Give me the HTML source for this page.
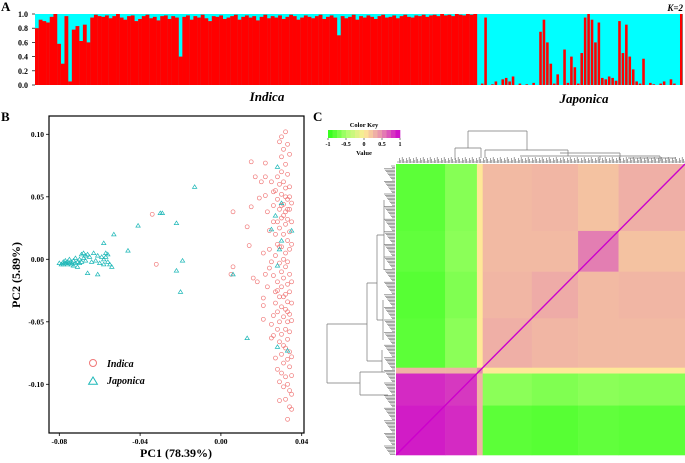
<!DOCTYPE html>
<html><head><meta charset="utf-8"><style>
html,body{margin:0;padding:0;background:#fff;}
svg{display:block;font-family:"Liberation Serif",serif;font-weight:bold;}
</style></head><body>
<svg id="fig" width="685" height="463" viewBox="0 0 685 463" xmlns="http://www.w3.org/2000/svg">
<g id="pA"></g>
<g id="pB"></g>
<g id="pC"></g>
</svg>
<script>
// ---- Panel A data: red (Indica ancestry) fraction per accession ----
const indicaQ = [0.80,0.92,0.90,0.88,0.96,1.00,0.58,0.30,0.97,0.05,0.78,0.83,0.62,0.85,0.60,0.95,0.99,0.97,0.96,0.98,0.94,0.97,1.00,0.95,0.92,0.97,0.98,0.90,0.93,0.97,0.99,0.94,0.96,0.91,0.97,0.98,0.93,0.97,0.95,0.40,0.96,0.98,0.92,0.97,0.95,0.99,0.94,0.90,0.97,0.96,0.98,0.93,0.95,0.97,0.99,0.92,0.96,0.98,0.95,0.97,0.91,0.96,0.99,0.94,0.97,0.95,0.98,0.93,0.96,0.99,0.97,0.92,0.95,0.98,0.96,0.94,0.97,0.99,0.93,0.96,0.98,0.95,0.70,0.97,0.94,0.96,0.99,0.92,0.97,0.95,0.98,0.96,0.93,0.97,0.99,0.95,0.96,0.98,0.94,0.97,0.99,0.96,0.95,0.98,0.97,0.99,0.96,0.98,0.99,0.97,1.00,0.98,0.99,0.97,1.00,0.99,0.98,1.00,0.99,1.00];
const japonicaQ = [0.00,0.02,0.95,0.00,0.01,0.05,0.00,0.08,0.10,0.05,0.12,0.00,0.02,0.00,0.01,0.00,0.03,0.00,0.75,0.92,0.60,0.30,0.02,0.15,0.00,0.50,0.03,0.40,0.25,0.02,0.45,0.95,1.00,0.92,0.60,0.88,0.10,0.08,0.12,0.10,0.06,0.90,0.45,0.85,0.40,0.22,0.05,0.02,0.37,0.00,0.03,0.01,0.00,0.02,0.05,0.00,0.08,0.02,0.00,1.00];
const yTicksA = ["0.0","0.2","0.4","0.6","0.8","1.0"];

// ---- Panel B data ----
const japPC = [[-0.080,-0.003],[-0.079,-0.004],[-0.078,-0.002],[-0.078,-0.004],[-0.077,-0.003],[-0.077,-0.001],[-0.076,-0.004],[-0.076,-0.002],[-0.075,-0.003],[-0.075,0.000],[-0.074,-0.002],[-0.074,-0.004],[-0.073,-0.001],[-0.073,-0.005],[-0.072,-0.003],[-0.072,0.001],[-0.071,-0.002],[-0.071,-0.006],[-0.070,0.000],[-0.070,-0.003],[-0.069,-0.002],[-0.069,0.004],[-0.068,0.005],[-0.068,0.001],[-0.067,0.003],[-0.067,-0.001],[-0.066,0.004],[-0.066,-0.011],[-0.065,0.002],[-0.064,-0.002],[-0.063,0.005],[-0.062,-0.001],[-0.061,0.003],[-0.061,-0.012],[-0.060,-0.003],[-0.059,0.002],[-0.058,0.000],[-0.058,-0.004],[-0.057,0.005],[-0.057,0.002],[-0.056,-0.002],[-0.056,0.004],[-0.055,-0.004],[-0.058,0.013],[-0.054,-0.006],[-0.053,0.020],[-0.046,0.007],[-0.041,0.027],[-0.030,0.037],[-0.029,0.037],[-0.022,0.029],[-0.022,-0.009],[-0.020,-0.026],[-0.019,-0.001],[-0.013,0.058],[0.006,-0.012],[0.013,-0.063],[0.028,0.074],[0.030,0.045],[0.027,0.035],[0.025,0.024],[0.035,0.023],[0.030,0.015],[0.029,0.008],[0.028,-0.005],[0.028,-0.070],[0.033,-0.073]];
const indPC = [[-0.034,0.036],[-0.032,-0.004],[0.005,-0.012],[0.006,-0.006],[0.006,0.038],[0.013,0.026],[0.014,0.011],[0.015,0.042],[0.015,0.078],[0.017,0.066],[0.016,-0.015],[0.018,-0.018],[0.019,0.049],[0.020,0.062],[0.021,0.005],[0.021,-0.031],[0.021,-0.037],[0.021,-0.048],[0.022,0.077],[0.022,0.066],[0.022,0.051],[0.023,0.038],[0.022,-0.012],[0.023,-0.022],[0.024,0.023],[0.024,0.008],[0.024,-0.007],[0.025,0.062],[0.025,-0.002],[0.025,-0.063],[0.025,-0.052],[0.026,0.054],[0.026,0.043],[0.026,0.030],[0.026,-0.013],[0.026,-0.045],[0.026,-0.061],[0.027,0.055],[0.027,0.020],[0.027,0.003],[0.027,-0.026],[0.027,-0.035],[0.027,-0.079],[0.028,0.066],[0.028,0.048],[0.028,0.012],[0.028,-0.018],[0.028,-0.042],[0.028,-0.056],[0.028,-0.088],[0.029,0.094],[0.029,0.060],[0.029,0.040],[0.029,0.025],[0.029,-0.003],[0.029,-0.030],[0.029,-0.050],[0.029,-0.066],[0.029,-0.098],[0.029,-0.113],[0.030,0.098],[0.030,0.082],[0.030,0.070],[0.030,0.052],[0.030,0.033],[0.030,0.010],[0.030,-0.010],[0.030,-0.022],[0.030,-0.038],[0.030,-0.060],[0.030,-0.076],[0.030,-0.091],[0.031,0.088],[0.031,0.062],[0.031,0.044],[0.031,0.020],[0.031,0.000],[0.031,-0.015],[0.031,-0.046],[0.031,-0.069],[0.031,-0.083],[0.031,-0.102],[0.032,0.102],[0.032,0.076],[0.032,0.057],[0.032,0.038],[0.032,0.028],[0.032,0.005],[0.032,-0.006],[0.032,-0.028],[0.032,-0.040],[0.032,-0.056],[0.032,-0.071],[0.032,-0.094],[0.032,-0.112],[0.033,0.092],[0.033,0.068],[0.033,0.048],[0.033,0.032],[0.033,0.015],[0.033,-0.002],[0.033,-0.020],[0.033,-0.034],[0.033,-0.050],[0.033,-0.064],[0.033,-0.080],[0.033,-0.100],[0.033,-0.128],[0.034,0.084],[0.034,0.058],[0.034,0.040],[0.034,0.022],[0.034,0.008],[0.034,-0.012],[0.034,-0.026],[0.034,-0.044],[0.034,-0.058],[0.034,-0.074],[0.034,-0.086],[0.034,-0.105],[0.034,-0.118],[0.035,0.045],[0.035,0.030],[0.035,0.012],[0.035,-0.018],[0.035,-0.035],[0.035,-0.049],[0.035,-0.078],[0.035,-0.093],[0.035,-0.108],[0.035,-0.120],[0.028,0.030],[0.031,0.035],[0.033,0.040],[0.032,0.050],[0.030,0.043],[0.034,0.050],[0.029,0.010],[0.031,-0.030],[0.028,-0.025],[0.033,-0.042]];
const xTicksB = [-0.08,-0.04,0.00,0.04];
const yTicksB = [0.10,0.05,0.00,-0.05,-0.10];

// ---- Panel C data: group sizes and group-by-group correlation ----
const groupNames = ["J1","J2","M","I1a","I1b","I2","I3"];
const groupSizes = [17,11,2,17,16,14,23];
const corrMatrix = [
 [0.90,0.85,0.30,-0.80,-0.82,-0.78,-0.80],
 [0.85,0.80,0.30,-0.62,-0.66,-0.62,-0.64],
 [0.30,0.30,0.50,0.02,0.02,0.02,0.02],
 [-0.80,-0.62,0.02,0.32,0.28,0.26,0.26],
 [-0.82,-0.66,0.02,0.28,0.34,0.26,0.28],
 [-0.78,-0.62,0.02,0.26,0.26,0.55,0.22],
 [-0.80,-0.64,0.02,0.26,0.28,0.22,0.32]];
const keyTicks = ["-1","-0.5","0","0.5","1"];

const NS="http://www.w3.org/2000/svg";
function mk(tag, attrs, parent){const e=document.createElementNS(NS,tag);for(const k in attrs)e.setAttribute(k,attrs[k]);parent.appendChild(e);return e;}
function txt(s, attrs, parent){const e=mk('text',attrs,parent);e.textContent=s;return e;}

// ===== Panel A =====
const A=document.getElementById('pA');
const ax0=35, ax1=683, asplit=477, ay0=85, ay1=14;
const ya=v=>ay0-(ay0-ay1)*v;
let lbl=txt("A",{x:1,y:11,'font-size':13},A);


lbl=txt("K=2",{x:683,y:11,'font-size':9,'text-anchor':'end','font-style':'italic'},A);


const bgJ=mk('rect',{x:asplit,y:ay1,width:ax1-asplit,height:ay0-ay1,fill:'#00ffff'},A);


const bgI=mk('rect',{x:ax0,y:ay1,width:asplit-ax0,height:ay0-ay1,fill:'#00ffff'},A);


const bwI=(asplit-ax0)/indicaQ.length;
indicaQ.forEach((q,i)=>{const r=mk('rect',{x:ax0+i*bwI,y:ya(q),width:bwI+0.15,height:ay0-ya(q),fill:'#ff0000'},A);

});
const bwJ=(ax1-asplit)/japonicaQ.length;
japonicaQ.forEach((q,i)=>{const w=bwJ*0.75;const r=mk('rect',{x:asplit+i*bwJ+(bwJ-w)/2,y:ya(q),width:w,height:ay0-ya(q),fill:'#ff0000'},A);

});
yTicksA.forEach(t=>{const v=parseFloat(t);
const tl=txt(t,{x:ax0-7,y:ya(v)+3,'font-size':8,'text-anchor':'end'},A);


mk('line',{x1:ax0-3,x2:ax0,y1:ya(v),y2:ya(v),stroke:'#000','stroke-width':0.7},A);});
lbl=txt("Indica",{x:267,y:101,'font-size':13,'text-anchor':'middle','font-style':'italic'},A);


lbl=txt("Japonica",{x:584,y:103,'font-size':13,'text-anchor':'middle','font-style':'italic'},A);



// ===== Panel B =====
const B=document.getElementById('pB');
const bx0=49,bx1=304,by0=116,by1=433;
const xB=v=>59.3+(v+0.08)*(242.4/0.12);
const yB=v=>259.3-v*1250;
lbl=txt("B",{x:1,y:121,'font-size':13},B);


const frame=mk('rect',{x:bx0,y:by0,width:bx1-bx0,height:by1-by0,fill:'none',stroke:'#000','stroke-width':1.2},B);


xTicksB.forEach(t=>{const x=xB(t);mk('line',{x1:x,x2:x,y1:by1,y2:by1+3,stroke:'#000','stroke-width':0.8},B);
const tl=txt(t.toFixed(2),{x:x,y:by1+11,'font-size':7.5,'text-anchor':'middle'},B);

});
yTicksB.forEach(t=>{const y=yB(t);mk('line',{x1:bx0-3,x2:bx0,y1:y,y2:y,stroke:'#000','stroke-width':0.8},B);
const tl=txt(t.toFixed(2),{x:bx0-5,y:y+2.5,'font-size':7.5,'text-anchor':'end'},B);

});
lbl=txt("PC1 (78.39%)",{x:176,y:457,'font-size':12,'text-anchor':'middle'},B);


lbl=txt("PC2 (5.89%)",{x:0,y:0,'font-size':12,'text-anchor':'middle',transform:'translate(20,275) rotate(-90)'},B);


indPC.forEach(p=>{const c=mk('circle',{cx:xB(p[0]),cy:yB(p[1]),r:2,fill:'none',stroke:'#f07878','stroke-width':0.7},B);

});
function tri(x,y,s){return `${x},${y-s} ${x-s*1.1},${y+s*0.8} ${x+s*1.1},${y+s*0.8}`;}
japPC.forEach(p=>{const t=mk('polygon',{points:tri(xB(p[0]),yB(p[1]),2),fill:'none',stroke:'#1fb8b8','stroke-width':0.7},B);

});
const lg=mk('g',{},B);


mk('circle',{cx:93,cy:363,r:3.5,fill:'none',stroke:'#f07878','stroke-width':1},lg);
lbl=txt("Indica",{x:107,y:367,'font-size':10,'font-style':'italic'},lg);


mk('polygon',{points:tri(93,381,4),fill:'none',stroke:'#1fb8b8','stroke-width':1},lg);
lbl=txt("Japonica",{x:107,y:384,'font-size':10,'font-style':'italic'},lg);



// ===== Panel C =====
const C=document.getElementById('pC');
lbl=txt("C",{x:313,y:121,'font-size':13},C);


const stops=[[-1,[40,255,20]],[-0.5,[170,255,110]],[0,[255,236,150]],[0.5,[230,140,175]],[1,[204,0,204]]];
function col(v){v=Math.max(-1,Math.min(1,v));for(let i=0;i<stops.length-1;i++){const[a,ca]=stops[i],[b,cb]=stops[i+1];if(v<=b){const t=(v-a)/(b-a);return `rgb(${ca.map((c,k)=>Math.round(c+(cb[k]-c)*t)).join(',')})`;}}return 'rgb(204,0,204)';}
const hx0=396,hx1=685,hy0=164,hy1=455;
const total=groupSizes.reduce((a,b)=>a+b,0);
const cw=(hx1-hx0)/total, ch=(hy1-hy0)/total;
let cx=0;
groupSizes.forEach((cs,ci)=>{
 let ry=0;
 for(let ri=groupSizes.length-1;ri>=0;ri--){
  const rs=groupSizes[ri];
  const r=mk('rect',{x:hx0+cx*cw,y:hy0+ry*ch,width:cs*cw+0.3,height:rs*ch+0.3,fill:col(corrMatrix[ri][ci])},C);
  
  
  ry+=rs;
 }
 cx+=cs;
});
const diag=mk('line',{x1:hx0,y1:hy1,x2:hx1,y2:hy0,stroke:'#cc00cc','stroke-width':1.4},C);


// color key
const key=mk('g',{},C);


const kx0=328,kx1=400;
for(let i=0;i<16;i++){const v=-1+(i+0.5)*2/16;mk('rect',{x:kx0+i*(kx1-kx0)/16,y:130,width:(kx1-kx0)/16+0.3,height:8,fill:col(v)},key);}
txt("Color Key",{x:364,y:127,'font-size':6.5,'text-anchor':'middle'},key);
keyTicks.forEach((t,i)=>{const x=kx0+i*(kx1-kx0)/4;mk('line',{x1:x,x2:x,y1:138,y2:140,stroke:'#000','stroke-width':0.5},key);txt(t,{x:x,y:146,'font-size':6,'text-anchor':'middle'},key);});
txt("Value",{x:364,y:155,'font-size':6.5,'text-anchor':'middle'},key);
// dendrograms
const dg=mk('g',{stroke:'#777',fill:'none','stroke-width':0.7},C);


const dp=[
 'M327,324V383 M327,324H367 M327,383H360 M367,283V361 M360,372V395 M367,283H377 M367,361H382 M360,372H385 M360,395H388 M377,235V320 M377,235H384 M377,320H383 M382,350V372 M384,200V270 M383,300V340',
 'M468,131H527 M468,131V148 M527,131V150 M455,148H481 M455,148V160 M481,148V158 M485,150H568 M485,150V158 M568,150V156 M520,156H600 M600,156V160 M560,153H620 M620,153V160 M590,156H660 M660,156V161 M628,158H676'];
dp.forEach(d=>mk('path',{d:d},dg));
const fr=mk('g',{stroke:'#666','stroke-width':0.6},C);


for(let y=166;y<455;y+=1.4){const w=3+((Math.round(y*10)*7)%9);mk('line',{x1:395-w,x2:395,y1:y,y2:y},fr);}
for(let x=398;x<685;x+=1.4){const h=2+((Math.round(x*10)*7)%5);mk('line',{x1:x,x2:x,y1:163-h,y2:163},fr);}
</script>
</body></html>
